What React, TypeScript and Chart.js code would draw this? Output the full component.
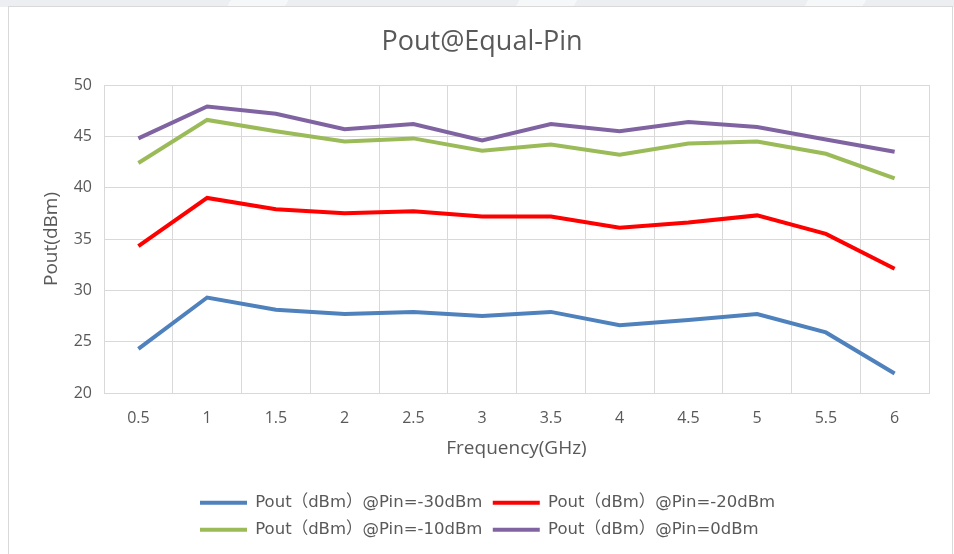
import React, { useEffect, useRef } from "react";
import { Chart, registerables } from "chart.js";

Chart.register(...registerables);

const chartTitle = "Pout@Equal-Pin";
const xTitle = "Frequency(GHz)";
const yTitle = "Pout(dBm)";
const frequencies = ["0.5", "1", "1.5", "2", "2.5", "3", "3.5", "4", "4.5", "5", "5.5", "6"];
const seriesNames = [
  "Pout（dBm）@Pin=-30dBm",
  "Pout（dBm）@Pin=-20dBm",
  "Pout（dBm）@Pin=-10dBm",
  "Pout（dBm）@Pin=0dBm",
];
const pinMinus30 = [24.3, 29.3, 28.1, 27.7, 27.9, 27.5, 27.9, 26.6, 27.1, 27.7, 25.9, 21.9];
const pinMinus20 = [34.3, 39.0, 37.9, 37.5, 37.7, 37.2, 37.2, 36.1, 36.6, 37.3, 35.5, 32.1];
const pinMinus10 = [42.4, 46.6, 45.5, 44.5, 44.8, 43.6, 44.2, 43.2, 44.3, 44.5, 43.3, 40.9];
const pin0 = [44.8, 47.9, 47.2, 45.7, 46.2, 44.6, 46.2, 45.5, 46.4, 45.9, 44.7, 43.5];
const seriesColors = ["#4F81BD", "#FF0000", "#9BBB59", "#8064A2"];
const yMin = 20;
const yMax = 50;
const yStep = 5;

const FONT = "'Open Sans', 'Noto Sans CJK SC', sans-serif";
const LEGEND_FONT = "'DejaVu Sans', 'Noto Sans CJK SC', sans-serif";
const TEXT = "#595959";
const GRID = "#d9d9d9";

export default function App() {
  const ref = useRef<HTMLCanvasElement | null>(null);

  useEffect(() => {
    if (!ref.current) return;
    const values = [pinMinus30, pinMinus20, pinMinus10, pin0];
    const placeBlocks = {
      id: "placeBlocks",
      afterLayout(chart: any) {
        const lg = chart.legend;
        if (lg) {
          const w = lg.right - lg.left;
          const pad = lg.options.labels.padding;
          lg.left = 191 - pad;
          lg.right = lg.left + w;
        }
        const tb = chart.titleBlock;
        if (tb) {
          tb.left += 13;
          tb.right += 13;
        }
      },
    };
    const chart = new Chart(ref.current, {
      type: "line",
      data: {
        labels: frequencies,
        datasets: values.map((v, i) => ({
          label: seriesNames[i],
          data: v,
          borderColor: seriesColors[i],
          backgroundColor: seriesColors[i],
          borderWidth: 4,
          pointRadius: 0,
          tension: 0,
          fill: false,
        })),
      },
      options: {
        animation: false,
        responsive: false,
        devicePixelRatio: 1,
        layout: { padding: { left: 0, right: 23, top: 0, bottom: 6 } },
        plugins: {
          title: {
            display: true,
            text: chartTitle,
            color: TEXT,
            font: { family: FONT, size: 27, weight: "normal" },
            padding: { top: 18.8, bottom: 26.8 },
          },
          legend: {
            position: "bottom",
            fullSize: false,
            align: "start",
            labels: {
              color: TEXT,
              font: { family: LEGEND_FONT, size: 16.5 },
              boxWidth: 47,
              boxHeight: 4,
              padding: 10.5,
              generateLabels(chart: any) {
                const base = (Chart.defaults.plugins.legend.labels as any).generateLabels(chart);
                return base.map((it: any) => ({ ...it, lineWidth: 0, fillStyle: it.strokeStyle }));
              },
            },
          },
          tooltip: { enabled: false },
        },
        scales: {
          x: {
            type: "category",
            offset: true,
            grid: { color: GRID, offset: true, drawTicks: false },
            border: { color: GRID },
            ticks: { color: TEXT, font: { family: FONT, size: 16 }, padding: 15.4, maxRotation: 0 },
            title: {
              display: true,
              text: xTitle,
              color: TEXT,
              font: { family: FONT, size: 19 },
              padding: { top: 8, bottom: 23.6 },
            },
            afterFit(scale: any) {
              scale.height = 91;
            },
          },
          y: {
            min: yMin,
            max: yMax,
            grid: { color: GRID, drawTicks: false },
            border: { color: GRID },
            ticks: { stepSize: yStep, color: TEXT, font: { family: FONT, size: 16 }, padding: 12 },
            title: {
              display: true,
              text: yTitle,
              color: TEXT,
              font: { family: FONT, size: 19 },
              padding: { top: 31.6, bottom: 0 },
            },
            afterFit(scale: any) {
              scale.width = 95;
            },
          },
        },
      },
      plugins: [placeBlocks],
    } as any);
    return () => chart.destroy();
  }, []);

  return (
    <div
      style={{
        position: "fixed",
        left: 0,
        top: 0,
        width: 954,
        height: 554,
        overflow: "hidden",
        background: "#ffffff",
      }}
    >
      <div
        style={{
          position: "absolute",
          left: 0,
          top: 0,
          width: 954,
          height: 7,
          background:
            "repeating-linear-gradient(120deg, #eceef2 0px, #eceef2 200px, #f6f7f9 200px, #f6f7f9 250px)",
        }}
      />
      <div
        style={{
          position: "absolute",
          left: 8,
          top: 6,
          width: 943,
          height: 560,
          border: "1px solid #d9d9d9",
          background: "#ffffff",
        }}
      >
        <canvas ref={ref} width={943} height={547} style={{ display: "block" }} />
      </div>
    </div>
  );
}
